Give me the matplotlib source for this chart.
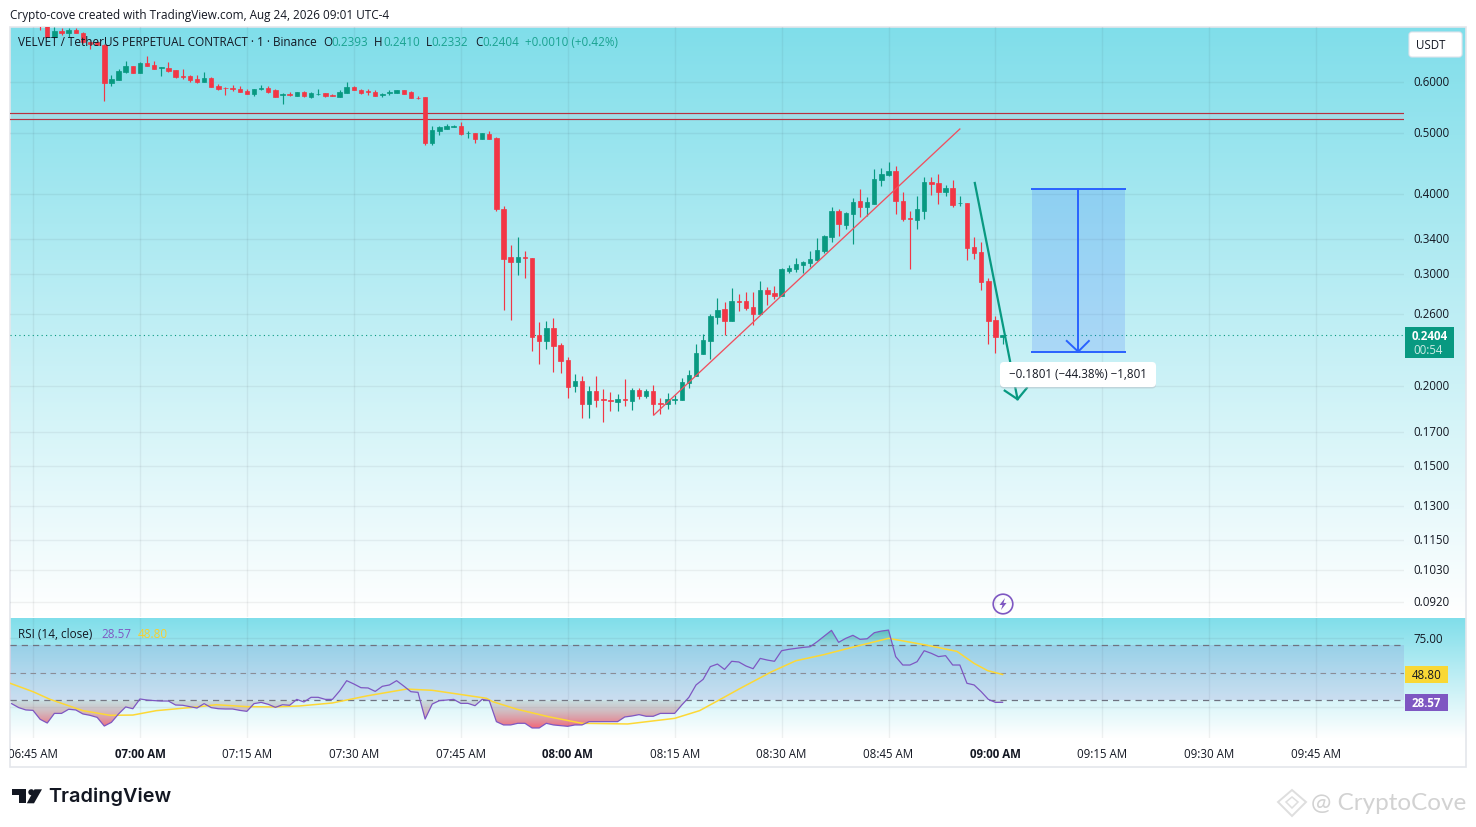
import numpy as np
import matplotlib
matplotlib.use('Agg')
import matplotlib.pyplot as plt
from matplotlib.patches import Rectangle, FancyBboxPatch, Circle, Polygon
from matplotlib.path import Path
from matplotlib.transforms import Bbox, TransformedBbox, ScaledTranslation

plt.rcParams['font.family'] = ['Open Sans', 'DejaVu Sans']
plt.rcParams['font.size'] = 8.3

# candles, one a minute, minute 0 is 06:45
opens = [
    .7500, .7400, .7050, .7220, .7170, .7238, .7170, .6940, .6920, .6865,
    .5985, .6044, .6220, .6357, .6198, .6426, .6380, .6320, .6311, .6265,
    .6132, .6132, .6066, .6000, .6088, .5914, .5872, .5872, .5851, .5809,
    .5740, .5858, .5872, .5830, .5732, .5746, .5705, .5787, .5684, .5746,
    .5760, .5725, .5684, .5766, .5893, .5830, .5802, .5787, .5732, .5766,
    .5766, .5830, .5787, .5670, .5684, .4816, .5028, .5065, .5108, .5120,
    .4986, .4988, .4885, .4968, .4903, .3795, .3192, .3135, .3192, .3181,
    .2409, .2357, .2470, .2324, .2202, .2004, .2040, .1878, .1968, .1913,
    .1906, .1892, .1912, .1899, .1975, .1933, .1968, .1885, .1878, .1908,
    .1906, .2026, .2078, .2250, .2357, .2571, .2646, .2534, .2724, .2724,
    .2665, .2599, .2833, .2803, .2773, .3035, .3057, .3101, .3124, .3158,
    .3262, .3430, .3768, .3582, .3727, .3906, .3822, .3864, .4213, .4291,
    .4353, .3906, .3673, .3647, .3768, .4183, .4168, .4035, .4094, .3871,
    .3878, .3309, .3250, .2927, .2543, .2393]
highs = [
    .7600, .7500, .7310, .7300, .7300, .7300, .7190, .6950, .6950, .6880,
    .6145, .6288, .6472, .6357, .6460, .6589, .6472, .6334, .6449, .6265,
    .6288, .6154, .6154, .6220, .6110, .5957, .5885, .5925, .5914, .5851,
    .5858, .5925, .5904, .5851, .5772, .5787, .5781, .5815, .5787, .5851,
    .5766, .5739, .5830, .6000, .5914, .5851, .5851, .5830, .5759, .5823,
    .5830, .5830, .5809, .5705, .5684, .5120, .5120, .5151, .5138, .5194,
    .5028, .4992, .4992, .5028, .4926, .3836, .3333, .3430, .3262, .3181,
    .2525, .2534, .2562, .2341, .2226, .2093, .2078, .2004, .2078, .1982,
    .1961, .1947, .2055, .1990, .1990, .1982, .2011, .1919, .1954, .1940,
    .2062, .2123, .2332, .2417, .2599, .2753, .2714, .2855, .2793, .2813,
    .2813, .2927, .2865, .2875, .3068, .3101, .3180, .3146, .3262, .3417,
    .3455, .3822, .3795, .3754, .3948, .4079, .3962, .4384, .4400, .4496,
    .4432, .4035, .3768, .3976, .4259, .4259, .4306, .4139, .4213, .3976,
    .3878, .3430, .3369, .2959, .2580, .2410]
lows = [
    .7238, .7045, .7020, .7100, .7050, .7170, .6900, .6760, .6860, .5600,
    .5915, .6044, .6190, .6190, .6190, .6357, .6288, .6140, .6228, .6088,
    .6066, .6000, .5978, .5993, .5893, .5830, .5725, .5809, .5787, .5746,
    .5705, .5825, .5772, .5684, .5543, .5705, .5705, .5691, .5670, .5719,
    .5691, .5705, .5684, .5766, .5830, .5746, .5725, .5705, .5684, .5725,
    .5766, .5746, .5658, .5643, .4782, .4782, .4956, .5060, .5096, .4956,
    .4903, .4816, .4885, .4885, .3768, .2637, .2543, .2991, .2959, .2274,
    .2170, .2291, .2108, .2100, .1919, .1961, .1786, .1786, .1858, .1760,
    .1832, .1832, .1865, .1838, .1912, .1919, .1805, .1812, .1845, .1878,
    .1906, .1990, .2078, .2250, .2210, .2507, .2409, .2534, .2627, .2637,
    .2498, .2599, .2685, .2743, .2773, .3013, .3024, .3013, .3079, .3146,
    .3238, .3369, .3443, .3531, .3345, .3687, .3700, .3864, .4124, .4275,
    .3727, .3634, .3057, .3531, .3660, .3990, .3864, .3976, .3822, .3836,
    .3158, .3169, .2833, .2332, .2258, .2332]
closes = [
    .7400, .7045, .7220, .7170, .7238, .7170, .6940, .6880, .6860, .5985,
    .6066, .6250, .6357, .6198, .6426, .6357, .6288, .6334, .6242, .6110,
    .6110, .6044, .6000, .6088, .5893, .5851, .5862, .5858, .5795, .5752,
    .5851, .5872, .5787, .5684, .5746, .5732, .5781, .5705, .5766, .5752,
    .5705, .5711, .5787, .5893, .5830, .5766, .5787, .5705, .5752, .5781,
    .5830, .5746, .5664, .5658, .4816, .5046, .5101, .5120, .5120, .4974,
    .4992, .4885, .4992, .4885, .3795, .3169, .3135, .3192, .3184, .2391,
    .2357, .2470, .2315, .2194, .1997, .2040, .1878, .1968, .1906, .1908,
    .1899, .1912, .1906, .1975, .1933, .1968, .1878, .1878, .1912, .1912,
    .2033, .2085, .2258, .2366, .2580, .2637, .2534, .2724, .2717, .2656,
    .2599, .2833, .2793, .2773, .3057, .3068, .3113, .3135, .3169, .3273,
    .3443, .3768, .3595, .3741, .3892, .3822, .3892, .4228, .4306, .4353,
    .3906, .3660, .3664, .3795, .4183, .4158, .4035, .4094, .3850, .3878,
    .3297, .3238, .2917, .2534, .2393, .2404]

# rsi from minute -3 to minute 136
rsi_values = [
    27.6, 24.7, 23.0, 22.7, 16.2, 13.5, 20.5, 20.5, 23.5, 23.0,
    20.1, 19.1, 17.6, 11.3, 14.0, 20.1, 25.2, 23.9, 31.0, 30.2,
    29.8, 29.5, 29.5, 26.6, 26.4, 25.4, 24.4, 27.6, 24.7, 23.9,
    23.7, 23.7, 22.7, 22.0, 27.6, 28.5, 27.1, 24.9, 26.8, 26.4,
    30.7, 28.8, 32.2, 32.2, 30.7, 30.7, 36.8, 44.3, 41.9, 39.2,
    39.0, 36.5, 40.2, 41.2, 44.3, 40.4, 36.3, 35.8, 16.4, 27.3,
    29.8, 30.2, 30.7, 27.8, 27.8, 26.1, 30.7, 29.8, 14.5, 12.1,
    12.1, 13.3, 13.3, 9.9, 9.9, 13.3, 12.1, 11.6, 11.1, 12.1,
    12.1, 14.5, 14.5, 14.5, 14.5, 14.5, 17.9, 18.6, 19.6, 18.4,
    18.4, 20.5, 20.5, 20.5, 26.6, 32.2, 41.2, 45.3, 54.5, 56.4,
    52.5, 58.4, 57.9, 55.0, 53.0, 60.5, 59.3, 58.4, 66.1, 67.1,
    67.8, 68.5, 69.0, 72.7, 76.8, 80.9, 72.2, 75.1, 77.3, 74.4,
    74.8, 79.2, 80.4, 81.1, 61.8, 55.7, 55.7, 58.1, 66.1, 64.2,
    61.8, 62.5, 55.7, 55.7, 42.4, 41.2, 36.3, 30.7, 28.5, 28.57]
sma_minutes = [-3.2, 0, 2.4, 4.7, 7, 10.8, 14, 17.3, 23.4, 25.7, 30, 33.7, 37.4, 42,
               46.8, 52.4, 56, 63.6, 64.5, 67.9, 72.3, 77, 83.4, 90, 93.5, 96.4,
               99.3, 103.6, 107, 110.9, 114.7, 120, 125.3, 129.6, 132, 133.9, 136]
sma_values = [42.4, 36.3, 30.7, 26.6, 22.5, 19.1, 19.3, 22.5, 25.4, 26.8, 25.4, 25.2, 25.9, 28.1,
              33.2, 38.2, 37.3, 31.5, 29.0, 23.5, 18.1, 13.3, 12.8, 16.9, 22.5, 30.7,
              39.0, 50.8, 58.8, 63.2, 68.3, 75.1, 70.2, 65.6, 56.9, 51.6, 48.8]

price_ticks = [0.6, 0.5, 0.4, 0.34, 0.3, 0.26, 0.2, 0.17, 0.15, 0.13, 0.115, 0.103, 0.092]
time_ticks = [0, 15, 30, 45, 60, 75, 90, 105, 120, 135, 150, 165, 180]
time_labels = ['06:45 AM', '07:00 AM', '07:15 AM', '07:30 AM', '07:45 AM', '08:00 AM', '08:15 AM',
               '08:30 AM', '08:45 AM', '09:00 AM', '09:15 AM', '09:30 AM', '09:45 AM']

# drawings on the chart
level_lines = [0.5356, 0.5241]
trend_x = [87.1, 130.0]
trend_y = [0.1805, 0.5064]
arrow_x = [132.1, 138.1]
arrow_y = [0.4168, 0.1910]
arrow_head_x = [136.3, 138.1, 139.4]
arrow_head_y = [0.1970, 0.1910, 0.1989]
measure_x = [140.1, 153.2]
measure_mid = 146.6
measure_y = [0.4078, 0.2268]
measure_head_x = [145.0, 146.6, 148.1]
measure_head_y = [0.2357, 0.2268, 0.2357]
last_price = 0.2404

RED = '#F23645'
GREEN = '#089981'
PURPLE = '#7E57C2'
YELLOW = '#FDD835'
BLUE = '#2962FF'
INK = '#131722'

W, H = 1476, 827
fig = plt.figure(figsize=(W / 100, H / 100), dpi=100, facecolor='white')


def pane(top, bottom, zorder):
    a = fig.add_axes([10 / W, 1 - bottom / H, 1394 / W, (bottom - top) / H], zorder=zorder)
    a.patch.set_alpha(0)
    for s in a.spines.values():
        s.set_visible(False)
    return a


# pixel axes below and above the panes, for the page itself
back = fig.add_axes([0, 0, 1, 1], zorder=0)
back.set_xlim(0, W)
back.set_ylim(H, 0)
back.axis('off')
front = fig.add_axes([0, 0, 1, 1], zorder=5)
front.set_xlim(0, W)
front.set_ylim(H, 0)
front.axis('off')
front.patch.set_alpha(0)

shade = np.linspace(0, 1, 256).reshape(-1, 1, 1)
top_rgb = np.array([128, 222, 234]).reshape(1, 1, 3) / 255
shade_img = top_rgb + (1 - top_rgb) * shade
back.imshow(shade_img, extent=(10, 1466, 617, 27), aspect='auto', zorder=1)
back.imshow(shade_img, extent=(10, 1466, 738, 618), aspect='auto', zorder=1)
back.set_xlim(0, W)
back.set_ylim(H, 0)
back.add_patch(Rectangle((10, 27), 1456, 740, fill=False, ec='#E4E6EB', lw=1.2, zorder=2))

# price pane
ax = pane(27, 617, 2)
ax.set_yscale('log')
ax.set_xlim(-3.226, 192.3)
ax.set_ylim(0.08706, 0.7317)
ax.set_yticks(price_ticks)
ax.set_yticklabels(['%.4f' % p for p in price_ticks])
ax.minorticks_off()
ax.yaxis.tick_right()
ax.tick_params(axis='y', length=0, pad=6.5, labelcolor=INK, labelsize=8.3)
ax.set_xticks(time_ticks)
ax.tick_params(axis='x', length=0, labelbottom=False)
ax.grid(True, color='#2A2E39', alpha=0.065, lw=1)
ax.set_axisbelow(True)
up_1px = ScaledTranslation(0, 1 / 100, fig.dpi_scale_trans)
for lab in ax.get_yticklabels():
    lab.set_transform(lab.get_transform() + up_1px)

minutes = np.arange(1, len(opens) + 1)
o = np.array(opens)
c = np.array(closes)
colors = [GREEN if b >= a else RED for a, b in zip(opens, closes)]
ax.vlines(minutes, lows, highs, colors=colors, lw=0.85, zorder=3)
ax.bar(minutes, np.abs(c - o), bottom=np.minimum(o, c), width=0.62, color=colors,
       edgecolor=colors, lw=0.5, zorder=3)

ax.axhspan(level_lines[1], level_lines[0], color='#C8CDD6', alpha=0.25, lw=0, zorder=2)
for level in level_lines:
    ax.axhline(level, color='#B8303F', lw=0.85, zorder=2)
ax.axhline(last_price, color=GREEN, lw=0.8, ls=(0, (1, 3)), zorder=2)
ax.plot(trend_x, trend_y, color='#F0505F', lw=0.95, zorder=4)

ax.fill_between(measure_x, measure_y[1], measure_y[0], color=BLUE, alpha=0.17, lw=0, zorder=2)
ax.hlines(measure_y, measure_x[0] - 0.15, measure_x[1] + 0.15, color=BLUE, lw=1.4, zorder=4)
ax.plot([measure_mid, measure_mid], measure_y, color=BLUE, lw=1.4, zorder=4)
ax.plot(measure_head_x, measure_head_y, color=BLUE, lw=1.4, zorder=4)

ax.plot(arrow_x, arrow_y, color=GREEN, lw=1.6, zorder=4)
ax.plot(arrow_head_x, arrow_head_y, color=GREEN, lw=1.6, zorder=4)

# rsi pane
rx = pane(618, 738, 2)
rx.set_xlim(-3.226, 192.3)
rx.set_ylim(2.6, 89.9)
rx.set_yticks([75, 25])
rx.set_yticklabels(['75.00', ''])
rx.yaxis.tick_right()
rx.tick_params(axis='y', length=0, pad=6.5, labelcolor=INK, labelsize=8.3)
rx.set_xticks(time_ticks)
rx.set_xticklabels(time_labels)
rx.tick_params(axis='x', length=0, pad=7, labelcolor=INK, labelsize=8.3)
rx.grid(True, color='#2A2E39', alpha=0.065, lw=1)
rx.set_axisbelow(True)
clip_area = TransformedBbox(Bbox([[10, 0], [W, H]]), front.transData)
for lab, name in zip(rx.get_xticklabels(), time_labels):
    lab.set_clip_on(True)
    lab.set_clip_box(clip_area)
    if name in ('07:00 AM', '08:00 AM', '09:00 AM'):
        lab.set_fontweight('bold')

rsi_x = np.arange(-3, 137)
rsi = np.array(rsi_values)
rx.axhspan(30, 70, color=PURPLE, alpha=0.14, lw=0, zorder=1)
rx.axhline(70, color='#6F7280', lw=0.9, ls=(0, (5, 4)), zorder=2)
rx.axhline(50, color='#8A8D98', lw=0.8, ls=(0, (5, 4)), zorder=2)
rx.axhline(30, color='#6F7280', lw=0.9, ls=(0, (5, 4)), zorder=2)


def gradient_fill(where, level, far, start, end):
    # colour runs from start at the level to end at the far value, cut to the fill shape
    shape = rx.fill_between(rsi_x, rsi, level, where=where, interpolate=True, facecolor='none', lw=0)
    ramp = np.linspace(0, 1, 64).reshape(-1, 1, 1)
    img = np.array(start).reshape(1, 1, 4) + (np.array(end) - np.array(start)).reshape(1, 1, 4) * ramp
    im = rx.imshow(img, extent=(-3.226, 192.3, far, level), aspect='auto', origin='upper', zorder=2)
    im.set_clip_path(Path.make_compound_path(*shape.get_paths()), transform=rx.transData)


gradient_fill(rsi < 30, 30, 10, (0.6, 0.6, 0.6, 0.25), (0.95, 0.21, 0.3, 0.75))
gradient_fill(rsi > 70, 70, 82, (0.5, 0.6, 0.65, 0.15), (0.03, 0.6, 0.5, 0.5))
rx.set_xlim(-3.226, 192.3)
rx.set_ylim(2.6, 89.9)
rx.plot(sma_minutes, sma_values, color=YELLOW, lw=1.1, zorder=4)
rx.plot(rsi_x, rsi, color=PURPLE, lw=0.9, zorder=4)


def label(x, y, s, **kw):
    kw.setdefault('va', 'center')
    kw.setdefault('color', INK)
    return front.text(x, y + 1, s, **kw)


# page text
label(10, 15, 'Crypto-cove created with TradingView.com, Aug 24, 2026 09:01 UTC-4', fontsize=8.45)
label(18, 41.5, 'VELVET / TetherUS PERPETUAL CONTRACT · 1 · Binance', fontsize=8.45)
for x, s, col in [(323, 'O', INK), (331, '0.2393', GREEN), (374, 'H', INK), (383, '0.2410', GREEN),
                  (426, 'L', INK), (431, '0.2332', GREEN), (475, 'C', INK), (482, '0.2404', GREEN),
                  (525, '+0.0010 (+0.42%)', GREEN)]:
    label(x, 41.5, s, color=col, fontsize=8.4, alpha=0.85 if col == GREEN else 1)
label(18, 633, 'RSI (14, close)', fontsize=8.45)
label(101, 633, '28.57', color=PURPLE, fontsize=8.4)
label(138, 633, '48.80', color='#F8CF2E', fontsize=8.4)

# price scale badges
front.add_patch(FancyBboxPatch((1409, 32), 53, 25, boxstyle='round,pad=0,rounding_size=3',
                               fc='white', ec='#E0E3EB', lw=0.8))
label(1431, 44.5, 'USDT', ha='center', fontsize=8.3)
front.add_patch(Rectangle((1405, 327), 49, 31, fc=GREEN, lw=0))
label(1429.5, 336, '0.2404', ha='center', color='white', fontweight='bold', fontsize=8.3)
label(1428, 350, '00:54', ha='center', color='#CDEBE5', fontsize=8.3)
front.add_patch(Rectangle((1405, 666), 43, 17, fc='#F9D835', lw=0))
label(1426.5, 674.5, '48.80', ha='center', fontsize=8.3)
front.add_patch(Rectangle((1405, 694), 43, 17, fc=PURPLE, lw=0))
label(1426.5, 702.5, '28.57', ha='center', color='white', fontweight='bold', fontsize=8.3)

# measure tag
front.add_patch(FancyBboxPatch((1000, 363.5), 156, 25, boxstyle='round,pad=0,rounding_size=4',
                               fc='#B8C4CC', ec='none', alpha=0.6))
front.add_patch(FancyBboxPatch((1000, 362), 156, 25, boxstyle='round,pad=0,rounding_size=4',
                               fc='white', ec='none'))
label(1078, 373.5, '\u22120.1801 (\u221244.38%) \u22121,801', ha='center', fontsize=8.3)

# flash icon
front.add_patch(Circle((1003, 604), 9.8, fc='none', ec=PURPLE, lw=1.2))
front.add_patch(Polygon([(1005, 598), (999.5, 605), (1002.5, 605), (1001, 610), (1006.5, 603), (1003.5, 603)],
                        fc=PURPLE, ec='none'))

# tradingview logo
front.add_patch(Polygon([(12, 789.3), (26, 789.3), (26, 803.3), (18.5, 803.3), (18.5, 794.5), (12, 794.5)],
                        fc='#131722', ec='none'))
front.add_patch(Circle((31.3, 792.2), 3.0, fc='#131722', ec='none'))
front.add_patch(Polygon([(34.5, 789.3), (42, 789.3), (34, 803.3), (26.8, 803.3)], fc='#131722', ec='none'))
label(48, 796, 'TradingView', color='#131722', fontsize=14.3, fontweight='semibold',
      family=['Inter', 'DejaVu Sans'])

# watermark
label(1311, 803, '@ CryptoCove', color='#D2D2D2', fontsize=17.5, family=['Lato', 'DejaVu Sans'])
front.add_patch(Polygon([(1292, 790), (1306, 802), (1292, 816), (1278, 802)], fill=False, ec='#DEDEDE', lw=1.4))
front.add_patch(Polygon([(1292, 797), (1298, 802), (1292, 808), (1286, 802)], fill=False, ec='#DEDEDE', lw=1.1))

fig.savefig('out.png', dpi=100)
